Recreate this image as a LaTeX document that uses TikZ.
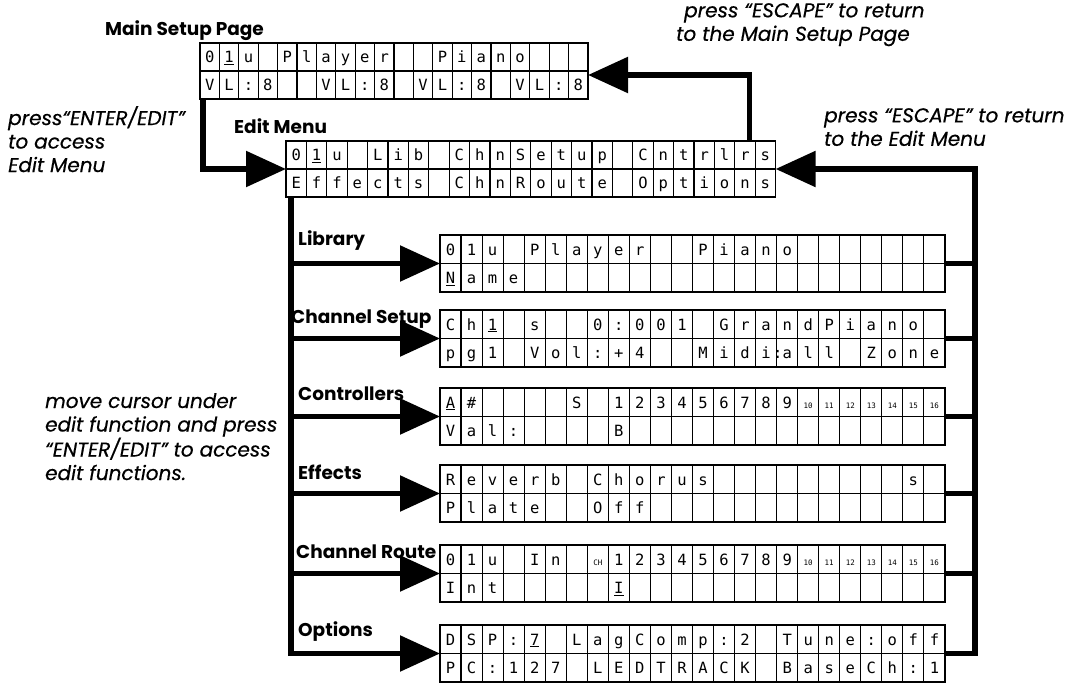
\documentclass[tikz,border=0pt]{standalone}
\usepackage{fontspec}
\newfontfamily\poppins{Poppins}
\newfontfamily\notefam{Poppins}[FakeBold=0.5]
\newfontfamily\lcdfam{DejaVu Sans Mono}
\usetikzlibrary{arrows.meta}
\newcommand\sm[1]{{\fontsize{7.5}{7.5}\selectfont #1}}
\newcommand\lcddisplay[8]{%
  \node[disp, anchor=north west, minimum width={#4*#5}, minimum height={2*#6}] (#1) at (#2,#3) {};
  \draw[cellline] (#1.west) -- (#1.east);
  \pgfmathtruncatemacro\lastk{#4-1}%
  \foreach \k in {1,...,\lastk}{\draw[cellline] ({#2+\k*#5},#3) -- ++(0,{2*#6});}
  \foreach \c [count=\i from 0] in {#7}{\node[lcdch] (#1-a\i) at ({#2+(\i+0.5)*#5},{#3+0.5*#6}) {\c};}
  \foreach \c [count=\i from 0] in {#8}{\node[lcdch] (#1-b\i) at ({#2+(\i+0.5)*#5},{#3+1.5*#6}) {\c};}
}
\tikzset{
  disp/.style={draw, line width=1.3pt, inner sep=0pt, outer sep=0pt},
  cellline/.style={line width=1.1pt},
  lcdch/.style={font=\lcdfam\fontsize{15.5}{15.5}\selectfont, inner sep=0pt, text height=11.5pt, text depth=0pt, anchor=center},
  conn/.style={line width=5.5pt, line join=miter},
  arr/.style={conn, -{Triangle[length=40pt,width=35pt]}},
  lbl/.style={font=\poppins\bfseries\fontsize{18.5}{22}\selectfont, anchor=base west, inner sep=0pt},
  note/.style={font=\notefam\itshape\fontsize{20}{23.5}\selectfont, inner sep=0pt, anchor=north west},
}
\begin{document}
\begin{tikzpicture}[x=1pt,y=-1pt]
\useasboundingbox (0,0) rectangle (1071,687);
% displays
\lcddisplay{main}{200}{43}{20}{19.4}{28}{0,\underline{1},u,{},P,l,a,y,e,r,{},{},P,i,a,n,o}{V,L,:,8,{},{},V,L,:,8,{},V,L,:,8,{},V,L,:,8}
\lcddisplay{edit}{286}{141}{24}{20.4}{28}{0,\underline{1},u,{},L,i,b,{},C,h,n,S,e,t,u,p,{},C,n,t,r,l,r,s}{E,f,f,e,c,t,s,{},C,h,n,R,o,u,t,e,{},O,p,t,i,o,n,s}
\lcddisplay{lib}{440}{235}{24}{21.04}{28.5}{0,1,u,{},P,l,a,y,e,r,{},{},P,i,a,n,o}{\underline{N},a,m,e}
\lcddisplay{chs}{440}{310}{24}{21.04}{28.5}{C,h,\underline{1},{},s,{},{},0,:,0,0,1,{},G,r,a,n,d,P,i,a,n,o}{p,g,1,{},V,o,l,:,+,4,{},{},M,i,d,i,\llap{:}a,l,l,{},Z,o,n,e}
\lcddisplay{ctl}{440}{388}{24}{21.04}{28.5}{\underline{A},\#,{},{},{},{},S,{},1,2,3,4,5,6,7,8,9,\sm{10},\sm{11},\sm{12},\sm{13},\sm{14},\sm{15},\sm{16}}{V,a,l,:,{},{},{},{},B}
\lcddisplay{eff}{440}{465}{24}{21.04}{28.5}{R,e,v,e,r,b,{},C,h,o,r,u,s,{},{},{},{},{},{},{},{},{},s}{P,l,a,t,e,{},{},O,f,f}
\lcddisplay{rte}{440}{545}{24}{21.04}{28.5}{0,1,u,{},I,n,{},\sm{CH},1,2,3,4,5,6,7,8,9,\sm{10},\sm{11},\sm{12},\sm{13},\sm{14},\sm{15},\sm{16}}{I,n,t,{},{},{},{},{},\underline{I}}
\lcddisplay{opt}{440}{625}{24}{21.04}{28.5}{D,S,P,:,\underline{7},{},L,a,g,C,o,m,p,:,2,{},T,u,n,e,:,o,f,f}{P,C,:,1,2,7,{},L,E,D,T,R,A,C,K,{},B,a,s,e,C,h,:,1}
% labels
\node[lbl] (lmain) at (105,36) {Main Setup Page};
\node[lbl] (ledit) at (234,134) {Edit Menu};
\node[lbl] (llib) at (298,246) {Library};
\node[lbl] (lchs) at (291,323) {Channel Setup};
\node[lbl] (lctl) at (298,400) {Controllers};
\node[lbl] (leff) at (298,479) {Effects};
\node[lbl] (lrte) at (296,558) {Channel Route};
\node[lbl] (lopt) at (298,636) {Options};
% connectors
\coordinate (lx) at (291,0);
\coordinate (rx) at (975,0);
\draw[arr] ([xshift=3pt]main.south west) |- (edit.west);
\draw[arr] ([xshift=-26pt]edit.north east) |- ([yshift=-4pt]main.east);
\draw[arr] (lx |- edit.south) |- (opt.west);
\foreach \b in {lib,chs,ctl,eff,rte}{\draw[arr] (lx |- \b.west) -- (\b.west);}
\draw[arr] (opt.east) -| (rx |- edit.east) -- (edit.east);
\foreach \b in {lib,chs,ctl,eff,rte}{\draw[conn] (\b.east) -- (rx |- \b.east);}
% notes
\node[note, align=left] (ntop) at (684,3) {press “ESCAPE” to return\\\hspace*{-8pt}to the Main Setup Page};
\node[note, align=left] (nleft) at (8,106) {press“ENTER/EDIT”\\to access\\Edit Menu};
\node[note, align=left] (nright) at (824,108) {press “ESCAPE” to return\\to the Edit Menu};
\node[note, align=left] (nmove) at (45,393) {move cursor under\\edit function and press\\“ENTER/EDIT” to access\\edit functions.};
\end{tikzpicture}
\end{document}
